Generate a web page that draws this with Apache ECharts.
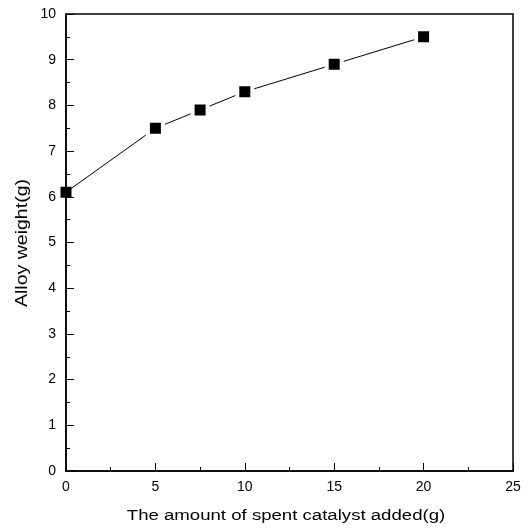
<!DOCTYPE html>
<html><head><meta charset="utf-8">
<script src="https://cdn.jsdelivr.net/npm/echarts@6/dist/echarts.min.js"></script>
<style>html,body{margin:0;padding:0;background:#fff}#c{width:530px;height:530px}</style>
</head><body><div id="c"></div>
<script>
const xValues = [0, 5, 7.5, 10, 15, 20];
const alloyWeight = [6.1, 7.5, 7.9, 8.3, 8.9, 9.5];
const xTitle = 'The amount of spent catalyst added(g)';
const yTitle = 'Alloy weight(g)';

const chart = echarts.init(document.getElementById('c'), null, {renderer: 'canvas'});
const font = 'Liberation Sans';
const axisCommon = {
  axisLine: {show: true, onZero: false, lineStyle: {color: '#000', width: 1.5}},
  axisTick: {show: true, inside: true, length: 8, lineStyle: {color: '#000'}},
  minorTick: {show: true, splitNumber: 2, length: 4, lineStyle: {color: '#000'}},
  axisLabel: {fontFamily: font, fontSize: 14, color: '#000', margin: 9},
  splitLine: {show: false}
};
chart.setOption({
  animation: false,
  grid: {left: 66, top: 14, right: 17, bottom: 59, show: true, borderColor: '#000', borderWidth: 1.5, backgroundColor: 'transparent'},
  xAxis: Object.assign({type: 'value', min: 0, max: 25, interval: 5}, axisCommon),
  yAxis: Object.assign({type: 'value', min: 0, max: 10, interval: 1}, axisCommon, {
    axisLabel: {fontFamily: font, fontSize: 14, color: '#000', margin: 10}
  }),
  graphic: [
    {type: 'text', x: 286, y: 516, scaleX: 1.2, z: 10,
     style: {text: xTitle, font: '15.5px "Liberation Sans"', fill: '#000', textAlign: 'center', textVerticalAlign: 'middle'}},
    {type: 'text', x: 23, y: 243, rotation: Math.PI / 2, scaleX: 1.22, z: 10,
     style: {text: yTitle, font: '16px "Liberation Sans"', fill: '#000', textAlign: 'center', textVerticalAlign: 'middle'}}
  ],
  series: [{
    type: 'line',
    data: xValues.map((x, i) => ({
      value: [x, alloyWeight[i]],
      itemStyle: i === 0 ? {borderWidth: 0} : undefined,
      symbolSize: i === 0 ? 11 : 15
    })),
    symbol: 'rect',
    itemStyle: {color: '#000', borderColor: '#fff', borderWidth: 4},
    lineStyle: {color: '#000', width: 1},
    clip: false
  }]
});
</script></body></html>
